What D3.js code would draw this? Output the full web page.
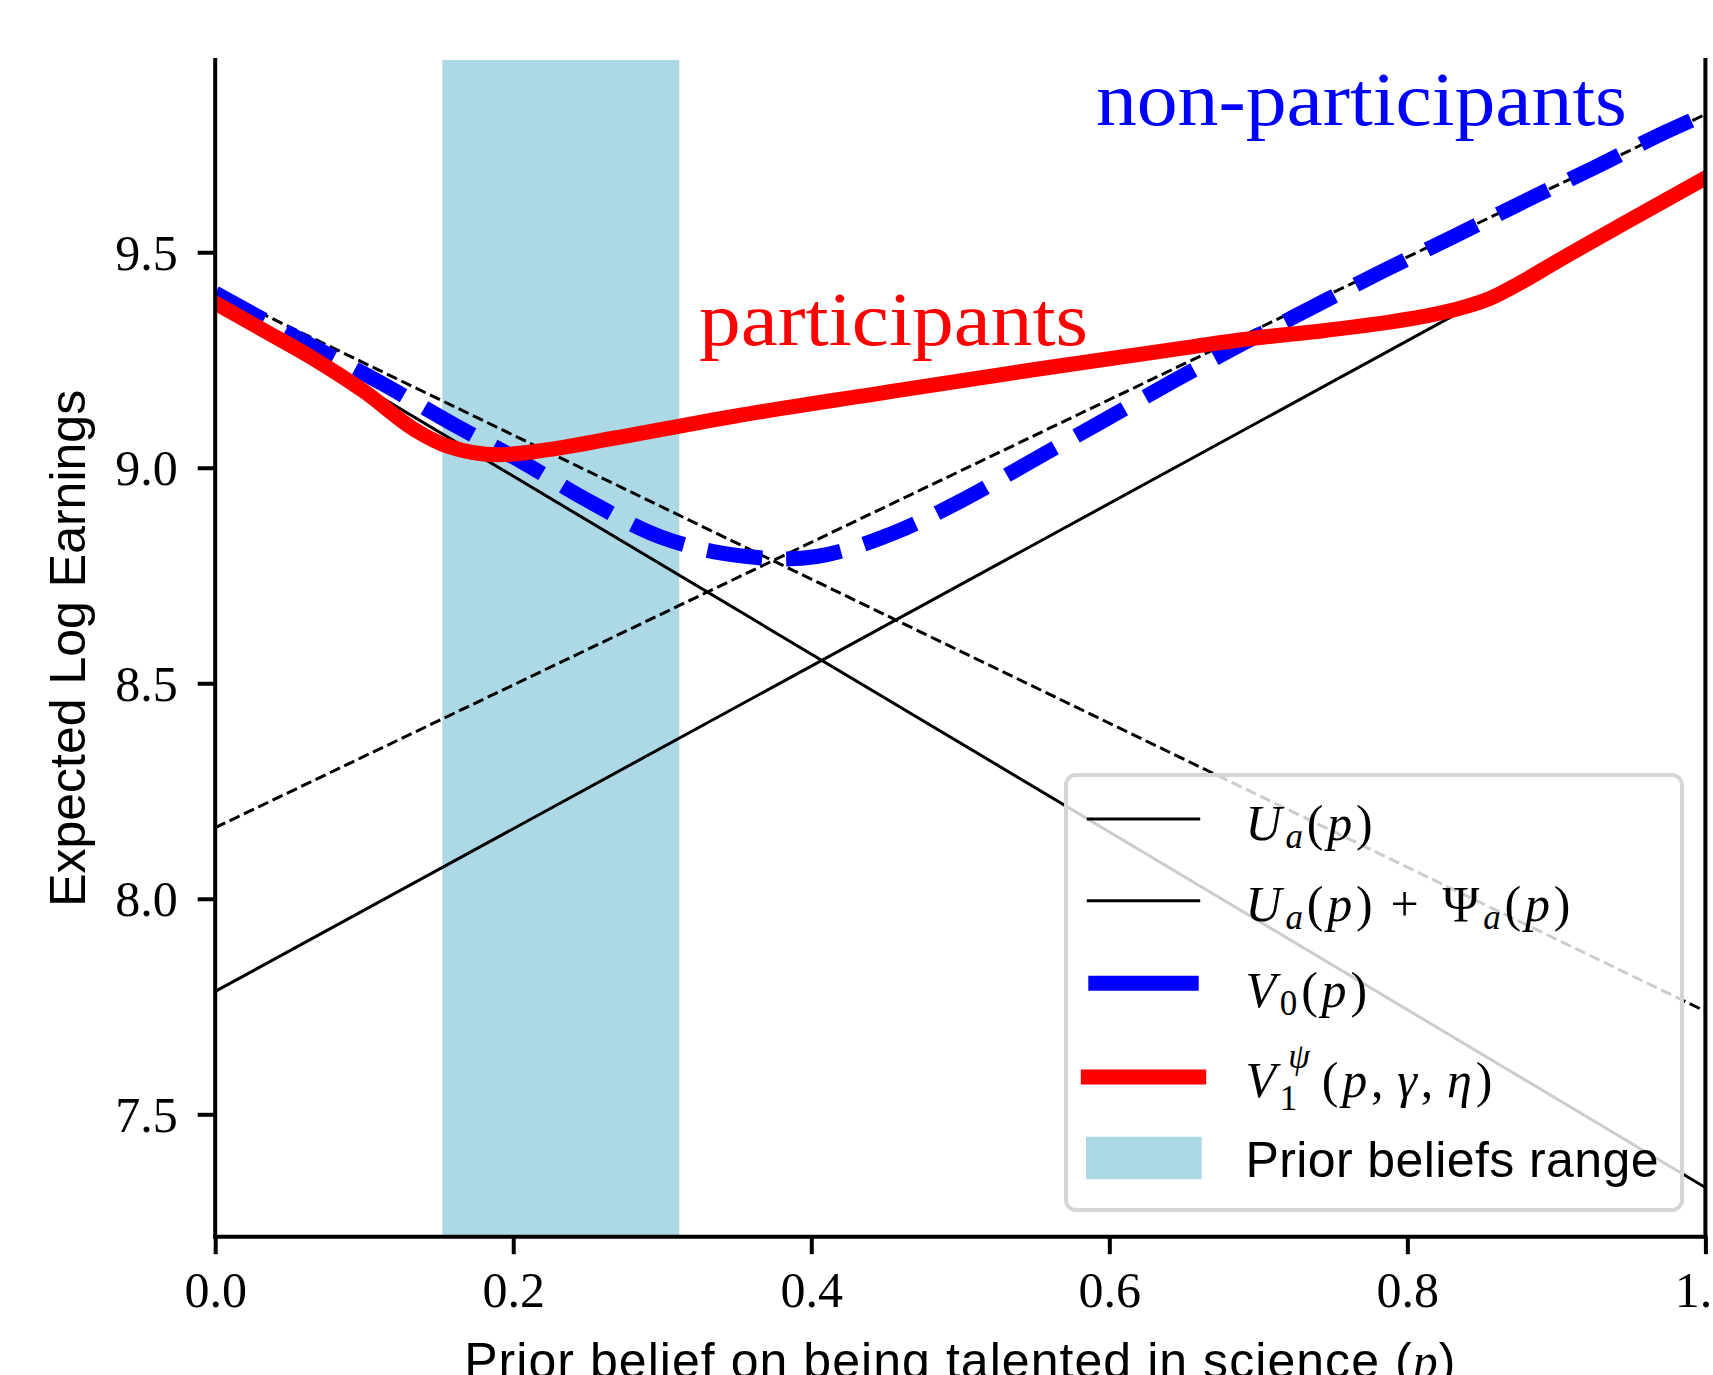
<!DOCTYPE html>
<html><head><meta charset="utf-8">
<script src="https://cdn.jsdelivr.net/npm/d3@7"></script>
<style>html,body{margin:0;padding:0;background:#fff;overflow:hidden;} svg{display:block;}</style>
</head><body><div id="chart"></div>
<script>
// ---------- data ----------
const xTicks = [0.0, 0.2, 0.4, 0.6, 0.8, 1.0];
const xTickLabels = ["0.0", "0.2", "0.4", "0.6", "0.8", "1.0"];
const yTicks = [7.5, 8.0, 8.5, 9.0, 9.5];
const yTickLabels = ["7.5", "8.0", "8.5", "9.0", "9.5"];
const xDomain = [0, 1];
const yDomain = [7.216, 9.946];
const priorRange = [0.1524, 0.3114];

// straight reference lines (endpoints at p = 0 and p = 1)
const uaDownP = [0, 1], uaDownV = [9.393, 7.33];     // solid, decreasing
const uaUpP = [0, 1], uaUpV = [7.785, 9.672];         // solid, increasing
const dashDownP = [0, 1], dashDownV = [9.41, 7.739];  // dashed, decreasing
const dashUpP = [0, 1], dashUpV = [8.165, 9.82];      // dashed, increasing

// V0(p) – non-participants
const v0P = [0, 0.0636, 0.1117, 0.1576, 0.2057, 0.25, 0.2985, 0.34, 0.36, 0.38, 0.4036, 0.454, 0.502, 0.5486, 0.5949, 0.6414, 0.6877, 0.735, 0.7828, 0.8308, 0.8785, 0.927, 0.974, 1.0];
const v0V = [9.405, 9.285, 9.196, 9.105, 9.014, 8.924, 8.840, 8.802, 8.793, 8.788, 8.794, 8.847, 8.926, 9.017, 9.107, 9.198, 9.285, 9.370, 9.455, 9.536, 9.618, 9.699, 9.780, 9.820];

// V1^psi(p, gamma, eta) – participants
const v1P = [0, 0.033, 0.067, 0.1, 0.134, 0.156, 0.19, 0.2235, 0.268, 0.349, 0.45, 0.55, 0.654, 0.698, 0.7436, 0.8107, 0.8331, 0.8555, 0.8778, 0.9, 0.9449, 1.0];
const v1V = [9.382, 9.318, 9.251, 9.177, 9.088, 9.050, 9.030, 9.042, 9.069, 9.120, 9.175, 9.228, 9.280, 9.301, 9.318, 9.351, 9.368, 9.393, 9.433, 9.478, 9.566, 9.672];

const annotParticipants = {text: "participants", p: 0.3247, v: 9.285};
const annotNonParticipants = {text: "non-participants", p: 0.591, v: 9.795};

// ---------- layout ----------
const W = 1713, H = 1375;
const L = 215.2, R = 1705.4, T = 60, B = 1236.7;
const SERIF = "'Liberation Serif', 'DejaVu Serif', serif";
const SANS = "'Liberation Sans', Arial, sans-serif";

const svg = d3.select("#chart").append("svg").attr("width", W).attr("height", H)
  .style("background", "#fff");

const x = d3.scaleLinear().domain(xDomain).range([L, R]);
const y = d3.scaleLinear().domain(yDomain).range([B, T]);

svg.append("defs").append("clipPath").attr("id", "plotclip")
  .append("rect").attr("x", L).attr("y", T).attr("width", R - L).attr("height", B - T);

const plot = svg.append("g").attr("clip-path", "url(#plotclip)");

// shaded prior range
plot.append("rect")
  .attr("x", x(priorRange[0])).attr("y", T)
  .attr("width", x(priorRange[1]) - x(priorRange[0])).attr("height", B - T)
  .attr("fill", "#add8e6");

const zip = (P, V) => P.map((p, i) => [p, V[i]]);
const lineStraight = d3.line().x(d => x(d[0])).y(d => y(d[1]));
const lineSmooth = d3.line().x(d => x(d[0])).y(d => y(d[1])).curve(d3.curveMonotoneX);

// black reference lines
[[uaDownP, uaDownV], [uaUpP, uaUpV]].forEach(([P, V]) => {
  plot.append("path").attr("d", lineStraight(zip(P, V)))
    .attr("fill", "none").attr("stroke", "#000").attr("stroke-width", 3)
    .attr("stroke-linecap", "square");
});
[[dashDownP, dashDownV], [dashUpP, dashUpV]].forEach(([P, V]) => {
  plot.append("path").attr("d", lineStraight(zip(P, V)))
    .attr("fill", "none").attr("stroke", "#000").attr("stroke-width", 3)
    .attr("stroke-dasharray", "11.1,4.8");
});

// V0 blue dashed
plot.append("path").attr("d", lineSmooth(zip(v0P, v0V)))
  .attr("fill", "none").attr("stroke", "#0000ff").attr("stroke-width", 15)
  .attr("stroke-dasharray", "55.5,24");

// V1 red solid
plot.append("path").attr("d", lineSmooth(zip(v1P, v1V)))
  .attr("fill", "none").attr("stroke", "#ff0000").attr("stroke-width", 15)
  .attr("stroke-linecap", "square").attr("stroke-linejoin", "round");

// annotations
svg.append("text").attr("x", x(annotParticipants.p)).attr("y", y(annotParticipants.v))
  .attr("font-family", SERIF).attr("font-size", 76).attr("fill", "#ff0000")
  .attr("textLength", 389).attr("lengthAdjust", "spacingAndGlyphs")
  .text(annotParticipants.text);
svg.append("text").attr("x", x(annotNonParticipants.p)).attr("y", y(annotNonParticipants.v))
  .attr("font-family", SERIF).attr("font-size", 76).attr("fill", "#0000ff")
  .attr("textLength", 531).attr("lengthAdjust", "spacingAndGlyphs")
  .text(annotNonParticipants.text);

// ---------- axes ----------
const yAxis = d3.axisLeft(y).tickValues(yTicks).tickFormat((d, i) => yTickLabels[i])
  .tickSizeInner(17.5).tickSizeOuter(0).tickPadding(20);
const gy = svg.append("g").attr("transform", `translate(${L},0)`).call(yAxis);
gy.select(".domain").remove();
gy.selectAll(".tick line").attr("stroke", "#000").attr("stroke-width", 4);
gy.selectAll(".tick text").attr("font-family", SERIF).attr("font-size", 50)
  .attr("fill", "#000").attr("dy", "0.34em");

const xAxis = d3.axisBottom(x).tickValues(xTicks).tickFormat((d, i) => xTickLabels[i])
  .tickSizeInner(17.5).tickSizeOuter(0).tickPadding(17);
const gx = svg.append("g").attr("transform", `translate(0,${B})`).call(xAxis);
gx.select(".domain").remove();
gx.selectAll(".tick line").attr("stroke", "#000").attr("stroke-width", 4);
gx.selectAll(".tick text").attr("font-family", SERIF).attr("font-size", 50).attr("fill", "#000");

// spines (left, bottom, right)
const spine = (x1, y1, x2, y2) => svg.append("line").attr("x1", x1).attr("y1", y1)
  .attr("x2", x2).attr("y2", y2).attr("stroke", "#000").attr("stroke-width", 4)
  .attr("stroke-linecap", "square");
spine(L, T, L, B);
spine(L, B, R, B);
spine(R, T, R, B);

// axis labels
svg.append("text").attr("transform", `translate(85,${(T + B) / 2}) rotate(-90)`)
  .attr("text-anchor", "middle").attr("font-family", SANS).attr("font-size", 50)
  .attr("fill", "#000").text("Expected Log Earnings");

const xl = svg.append("text").attr("x", (L + R) / 2).attr("y", 1378)
  .attr("text-anchor", "middle").attr("font-family", SANS).attr("font-size", 50)
  .attr("letter-spacing", 1.05).attr("fill", "#000");
xl.append("tspan").text("Prior belief on being talented in science (");
xl.append("tspan").attr("font-family", SERIF).attr("font-style", "italic").text("p");
xl.append("tspan").text(")");

// ---------- legend ----------
const leg = svg.append("g");
leg.append("rect").attr("x", 1066).attr("y", 775).attr("width", 616).attr("height", 435)
  .attr("rx", 10).attr("ry", 10)
  .attr("fill", "#fff").attr("fill-opacity", 0.8)
  .attr("stroke", "#d6d6d6").attr("stroke-width", 4);

const hx1 = 1088.3, hx2 = 1198.7, tx = 1245.5;
const rows = [
  {type: "line", color: "#000", w: 3, cap: "square", cy: 819, base: 839.5,
   parts: [{t: "U", i: 1}, {t: "a", i: 1, sub: 8}, {t: "("}, {t: "p", i: 1}, {t: ")"}]},
  {type: "line", color: "#000", w: 3, cap: "square", cy: 900.7, base: 920.5,
   parts: [{t: "U", i: 1}, {t: "a", i: 1, sub: 8}, {t: "("}, {t: "p", i: 1}, {t: ")"},
           {t: "+", dx: 14}, {t: "Ψ", dx: 20}, {t: "a", i: 1, sub: 8}, {t: "("}, {t: "p", i: 1}, {t: ")"}]},
  {type: "line", color: "#0000ff", w: 15, cap: "butt", cy: 983.3, base: 1006.5,
   parts: [{t: "V", i: 1}, {t: "0", sub: 8}, {t: "("}, {t: "p", i: 1}, {t: ")"}]},
  {type: "line", color: "#ff0000", w: 15, cap: "square", cy: 1077, base: 1096.7,
   parts: [{t: "V", i: 1}, {t: "1", sub: 13}, {t: "ψ", i: 1, sup: 29, back: 13}, {t: "(", dx: 8}, {t: "p", i: 1}, {t: ","},
           {t: "γ", i: 1, dx: 10}, {t: ","}, {t: "η", i: 1, dx: 10}, {t: ")"}]},
  {type: "patch", color: "#add8e6", cy: 1158, base: 1176.7, sans: "Prior beliefs range"}
];

rows.forEach(r => {
  if (r.type === "line") {
    leg.append("line").attr("x1", hx1).attr("x2", hx2).attr("y1", r.cy).attr("y2", r.cy)
      .attr("stroke", r.color).attr("stroke-width", r.w).attr("stroke-linecap", r.cap);
  } else {
    leg.append("rect").attr("x", 1086).attr("y", r.cy - 21.3).attr("width", 115.7).attr("height", 42.6)
      .attr("fill", r.color);
  }
  const t = leg.append("text").attr("x", tx).attr("y", r.base).attr("fill", "#000");
  if (r.sans) {
    t.attr("font-family", SANS).attr("font-size", 50).attr("letter-spacing", 0.4).text(r.sans);
    return;
  }
  t.attr("font-family", SERIF).attr("font-size", 50).attr("letter-spacing", 3.8);
  let shift = 0;
  r.parts.forEach(pt => {
    const s = t.append("tspan").text(pt.t);
    if (pt.i) s.attr("font-style", "italic");
    let target = 0, size = 50;
    if (pt.sub) { target = pt.sub; size = 35; }
    if (pt.sup) { target = -pt.sup; size = 35; }
    s.attr("font-size", size);
    const dy = target - shift;
    if (dy !== 0) s.attr("dy", dy);
    shift = target;
    let dx = pt.dx || 0;
    if (pt.back) dx -= pt.back;
    if (dx) s.attr("dx", dx);
  });
});
</script>
</body></html>
